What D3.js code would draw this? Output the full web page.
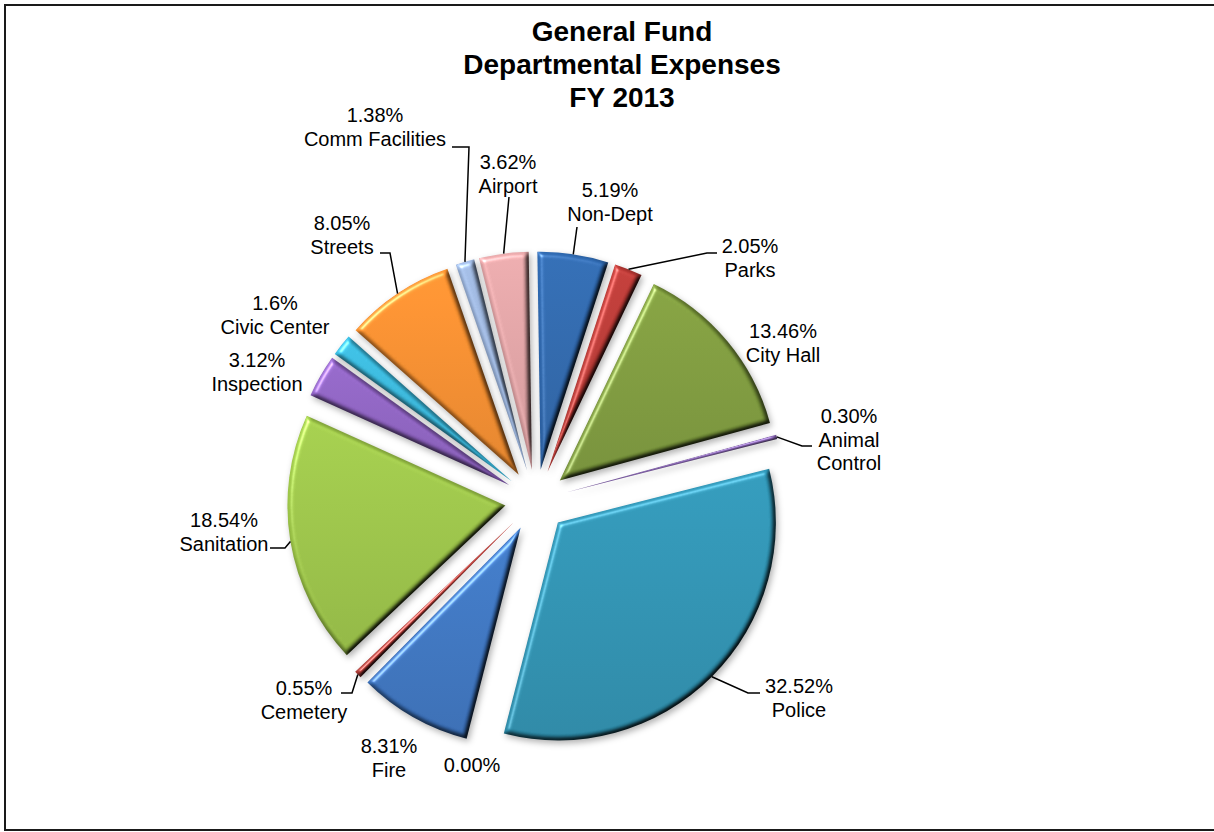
<!DOCTYPE html>
<html>
<head>
<meta charset="utf-8">
<script src="https://cdn.jsdelivr.net/npm/d3@7"></script>
<style>
  html, body { margin: 0; padding: 0; background: #ffffff; overflow: hidden; }
  svg { display: block; font-family: "Liberation Sans", Arial, Helvetica, sans-serif; }
</style>
</head>
<body>
<svg id="chart" width="1214" height="832"></svg>
<script>
// ---- data -------------------------------------------------------------
const departments = ["Non-Dept", "Parks", "City Hall", "Animal Control", "Police", "",
  "Fire", "Cemetery", "Sanitation", "Inspection", "Civic Center", "Streets",
  "Comm Facilities", "Airport"];
const shares = [5.19, 2.05, 13.46, 0.30, 32.52, 0.00, 8.31, 0.55, 18.54, 3.12, 1.6, 8.05, 1.38, 3.62];
const shareLabels = ["5.19%", "2.05%", "13.46%", "0.30%", "32.52%", "0.00%", "8.31%", "0.55%",
  "18.54%", "3.12%", "1.6%", "8.05%", "1.38%", "3.62%"];
const sliceColors = ["#2c64a8", "#b53632", "#7a973a", "#7a5aa2", "#2c8fae", "#888888",
  "#3a72bd", "#b23b36", "#99c045", "#8a5fbd", "#36b3d6", "#f08a2c", "#97afd6", "#dc9fa1"];
const titleLines = ["General Fund", "Departmental Expenses", "FY 2013"];

// ---- layout -----------------------------------------------------------
const W = 1214, H = 832;
const cx = 536, cy = 500.5;      // pie centre
const R = 218;                   // slice radius
const explode = 31;              // every slice pulled out by the same distance
const turn = -0.015;             // small counter-clockwise start offset (radians)

// label anchors (centre x, first baseline y) and leader elbows; the last
// leader point is taken from the slice itself
const labelLayout = [
  { x: 610, y: 197, leader: [[577, 227]] },
  { x: 750, y: 253, leader: [[717, 253], [707, 253]] },
  { x: 783, y: 338 },
  { x: 849, y: 423, wrap: true, leader: [[812, 446], [802, 446]] },
  { x: 799, y: 693, leader: [[760, 693], [748, 693]] },
  { x: 472, y: 772 },
  { x: 389, y: 753 },
  { x: 304, y: 695, leader: [[341, 693], [352, 693]] },
  { x: 224, y: 527, leader: [[270, 548], [285, 548]] },
  { x: 257, y: 367 },
  { x: 275, y: 310 },
  { x: 342, y: 230, leader: [[380, 253], [390, 253]] },
  { x: 375, y: 122, leader: [[452, 147], [469, 147]] },
  { x: 508, y: 169, leader: [[509, 197]] }
];

const svg = d3.select("#chart");
const defs = svg.append("defs");

// bevel + soft shadow used on every slice (region in the slice's own space)
const f = defs.append("filter").attr("id", "bevel")
  .attr("filterUnits", "userSpaceOnUse")
  .attr("x", -300).attr("y", -300).attr("width", 600).attr("height", 600)
  .attr("color-interpolation-filters", "sRGB");
f.append("feGaussianBlur").attr("in", "SourceAlpha").attr("stdDeviation", 2.5).attr("result", "blur");
const diff = f.append("feDiffuseLighting").attr("in", "blur").attr("surfaceScale", 4)
  .attr("diffuseConstant", 1.2).attr("lighting-color", "#ffffff").attr("result", "diffuse");
diff.append("feDistantLight").attr("azimuth", 225).attr("elevation", 56);
f.append("feComposite").attr("in", "SourceGraphic").attr("in2", "diffuse")
  .attr("operator", "arithmetic").attr("k1", 1).attr("k2", 0).attr("k3", 0).attr("k4", 0)
  .attr("result", "shaded");
const spec = f.append("feSpecularLighting").attr("in", "blur").attr("surfaceScale", 4)
  .attr("specularConstant", 0.9).attr("specularExponent", 22)
  .attr("lighting-color", "#ffffff").attr("result", "spec");
spec.append("feDistantLight").attr("azimuth", 225).attr("elevation", 35);
f.append("feComposite").attr("in", "spec").attr("in2", "SourceAlpha").attr("operator", "in").attr("result", "specIn");
f.append("feComposite").attr("in", "shaded").attr("in2", "specIn")
  .attr("operator", "arithmetic").attr("k1", 0).attr("k2", 1).attr("k3", 0.5).attr("k4", 0)
  .attr("result", "lit");
f.append("feGaussianBlur").attr("in", "SourceAlpha").attr("stdDeviation", 3).attr("result", "sblur");
f.append("feOffset").attr("in", "sblur").attr("dx", 2).attr("dy", 3).attr("result", "soff");
f.append("feFlood").attr("flood-color", "#000000").attr("flood-opacity", 0.3).attr("result", "sc");
f.append("feComposite").attr("in", "sc").attr("in2", "soff").attr("operator", "in").attr("result", "shadow");
const merge = f.append("feMerge");
merge.append("feMergeNode").attr("in", "shadow");
merge.append("feMergeNode").attr("in", "lit");

// vertical body gradient for each slice colour
sliceColors.forEach((c, i) => {
  const g = defs.append("linearGradient").attr("id", "grad" + i)
    .attr("x1", 0).attr("y1", 0).attr("x2", 0).attr("y2", 1);
  g.append("stop").attr("offset", "0%").attr("stop-color", d3.color(c).brighter(0.15).formatHex());
  g.append("stop").attr("offset", "100%").attr("stop-color", d3.color(c).darker(0.22).formatHex());
});

// frame: top, left and bottom rules
svg.append("path")
  .attr("d", `M${W + 10},5 H5 V830 H${W + 10}`)
  .attr("fill", "none").attr("stroke", "#1a1a1a").attr("stroke-width", 2);

// title
svg.append("text")
  .attr("x", 622).attr("y", 41)
  .attr("text-anchor", "middle")
  .attr("font-size", 28).attr("font-weight", "bold").attr("fill", "#000")
  .selectAll("tspan").data(titleLines).join("tspan")
  .attr("x", 622).attr("dy", (d, i) => i === 0 ? 0 : 33)
  .text(d => d);

// pie
const pie = d3.pie().sort(null).value(d => d.value)
  .startAngle(turn).endAngle(2 * Math.PI + turn);
const records = departments.map((name, i) => ({ name, value: shares[i], label: shareLabels[i], i }));
const arcs = pie(records);
const arc = d3.arc().innerRadius(0).outerRadius(R);

const offset = a => {
  const m = (a.startAngle + a.endAngle) / 2;
  return [explode * Math.sin(m), -explode * Math.cos(m)];
};
const rimPoint = a => {
  const m = (a.startAngle + a.endAngle) / 2;
  const o = offset(a);
  return [cx + o[0] + R * Math.sin(m), cy + o[1] - R * Math.cos(m)];
};

svg.append("g")
  .selectAll("path")
  .data(arcs.filter(a => a.data.value > 0))
  .join("path")
  .attr("transform", a => { const o = offset(a); return `translate(${cx + o[0]},${cy + o[1]})`; })
  .attr("d", arc)
  .attr("fill", a => `url(#grad${a.data.i})`)
  .attr("filter", "url(#bevel)");

// leader lines
const line = d3.line();
svg.append("g")
  .selectAll("path")
  .data(arcs.filter(a => labelLayout[a.data.i].leader))
  .join("path")
  .attr("d", a => line([...labelLayout[a.data.i].leader, rimPoint(a)]))
  .attr("fill", "none").attr("stroke", "#000").attr("stroke-width", 1.5);

// data labels: percentage over department name
const labels = svg.append("g").attr("font-size", 20).attr("fill", "#000").attr("text-anchor", "middle");
arcs.forEach(a => {
  const L = labelLayout[a.data.i];
  const nameLines = a.data.name === "" ? [] : (L.wrap ? a.data.name.split(" ") : [a.data.name]);
  const lines = [a.data.label, ...nameLines];
  labels.append("text")
    .attr("x", L.x).attr("y", L.y)
    .selectAll("tspan").data(lines).join("tspan")
    .attr("x", L.x).attr("dy", (d, k) => k === 0 ? 0 : 23.5)
    .text(d => d);
});
</script>
</body>
</html>
